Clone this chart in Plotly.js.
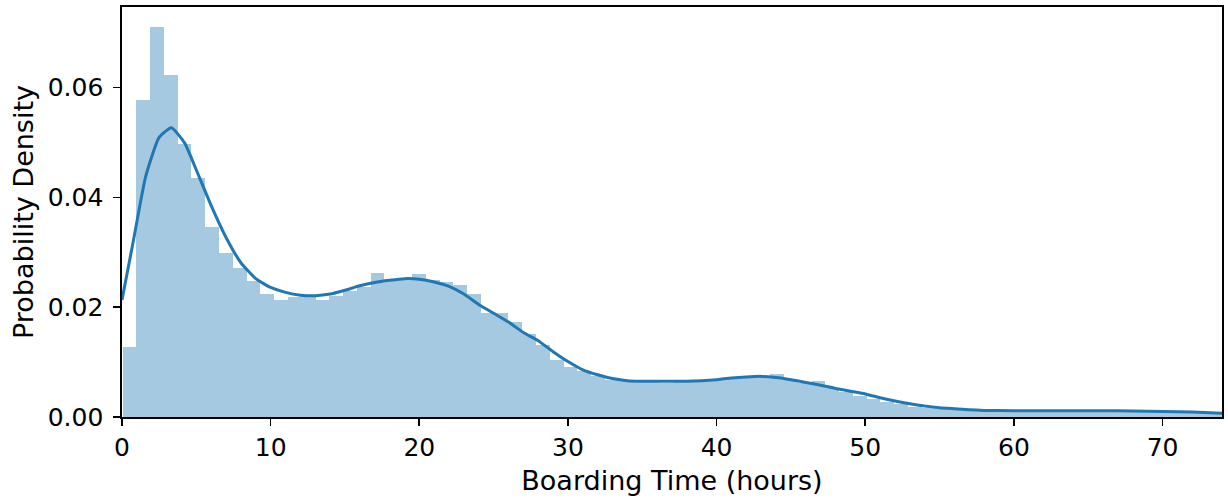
<!DOCTYPE html>
<html>
<head>
<meta charset="utf-8">
<script src="https://cdn.plot.ly/plotly-3.0.1.min.js"></script>
<style>
  html, body { margin: 0; padding: 0; background: #ffffff; }
  #chart { width: 1228px; height: 502px; }
</style>
</head>
<body>
<div id="chart"></div>
<script>
// Histogram of boarding times (density per bin), bins of equal width
const binStart = 0.039;
const binWidth = 0.927;
const binDensity = [
  0.0127, 0.0577, 0.0711, 0.0624, 0.0498, 0.0435, 0.0347, 0.0298, 0.0272, 0.0247,
  0.0224, 0.0214, 0.0219, 0.0221, 0.0213, 0.0220, 0.0229, 0.0237, 0.0263, 0.0247,
  0.0252, 0.0260, 0.0250, 0.0246, 0.0240, 0.0224, 0.0189, 0.0190, 0.0173, 0.0151,
  0.0132, 0.0104, 0.0092, 0.0083, 0.0075, 0.0068, 0.0068, 0.0066, 0.0065, 0.0062,
  0.0065, 0.0067, 0.0068, 0.0069, 0.0071, 0.0072, 0.0072, 0.0078, 0.0068, 0.0062,
  0.0065, 0.0052, 0.0046, 0.0039, 0.0033, 0.0027, 0.0023, 0.0019, 0.0016, 0.0014,
  0.0012, 0.0012, 0.0011, 0.0011, 0.0011, 0.0012, 0.0012, 0.0011, 0.0011, 0.0012,
  0.0011, 0.0011, 0.0010, 0.0010, 0.0009, 0.0009, 0.0008, 0.0008, 0.0007, 0.0007
];

// Kernel density estimate of the same sample
const kdeX = [
  0, 0.8, 1.59, 2.49, 3.32, 4.22, 5.0, 6.0, 7.0, 8.0, 9.0, 10.0, 11.0, 12.0, 13.0,
  14.0, 15.0, 16.0, 17.0, 18.0, 19.0, 20.0, 21.0, 22.0, 23.0, 24.0, 25.0, 26.0,
  27.0, 28.0, 29.0, 30.0, 31.0, 32.0, 33.0, 34.0, 35.0, 36.0, 37.0, 38.0, 39.0,
  40.0, 41.0, 42.0, 43.0, 44.0, 45.0, 46.0, 47.0, 48.0, 49.0, 50.0, 51.0, 52.0,
  53.0, 54.0, 55.0, 56.0, 57.0, 58.0, 60.0, 62.0, 64.0, 66.0, 68.0, 70.0, 72.0, 74.0
];
const kdeY = [
  0.0213, 0.0326, 0.0438, 0.0509, 0.0527, 0.0499, 0.0450, 0.0385, 0.0327, 0.0281,
  0.0252, 0.0236, 0.0227, 0.0222, 0.0221, 0.0224, 0.0231, 0.0239, 0.0245, 0.0249,
  0.0252, 0.0251, 0.0246, 0.0238, 0.0224, 0.0205, 0.0189, 0.0173, 0.0154, 0.0139,
  0.0119, 0.0101, 0.0086, 0.0077, 0.0070, 0.0066, 0.0065, 0.0065, 0.0065, 0.0065,
  0.0066, 0.0068, 0.0071, 0.0073, 0.0074, 0.0072, 0.0068, 0.0063, 0.0058, 0.0052,
  0.0047, 0.0042, 0.0035, 0.0029, 0.0024, 0.0020, 0.0017, 0.0015, 0.0013, 0.0012,
  0.00115, 0.00112, 0.00115, 0.00115, 0.0011, 0.0010, 0.0009, 0.0007
];

const xTitle = 'Boarding Time (hours)';
const yTitle = 'Probability Density';

const blue = '#1f77b4';
const tickFont = { family: 'DejaVu Sans, sans-serif', size: 25, color: '#000000' };
const titleFont = { family: 'DejaVu Sans, sans-serif', size: 27, color: '#000000' };

const binCenters = binDensity.map((_, k) => binStart + (k + 0.5) * binWidth);

const bars = {
  type: 'bar',
  x: binCenters,
  y: binDensity,
  width: binDensity.map(() => binWidth),
  marker: { color: 'rgba(31,119,180,0.4)', line: { width: 0 } },
  hoverinfo: 'x+y',
  showlegend: false
};

const kde = {
  type: 'scatter',
  mode: 'lines',
  x: kdeX,
  y: kdeY,
  line: { color: blue, width: 3, shape: 'spline', smoothing: 0.5 },
  showlegend: false
};

const axisCommon = {
  showline: true,
  mirror: true,
  linecolor: '#000000',
  linewidth: 1.6,
  ticks: 'outside',
  ticklen: 7,
  tickwidth: 1.6,
  tickcolor: '#000000',
  showgrid: false,
  zeroline: false,
  tickfont: tickFont,
  automargin: false
};

const layout = {
  width: 1228,
  height: 502,
  margin: { l: 122, r: 6, t: 7, b: 85 },
  paper_bgcolor: '#ffffff',
  plot_bgcolor: '#ffffff',
  bargap: 0,
  font: tickFont,
  xaxis: Object.assign({}, axisCommon, {
    range: [0, 74],
    dtick: 10,
    tick0: 0,
    title: { text: xTitle, font: titleFont, standoff: 10 }
  }),
  yaxis: Object.assign({}, axisCommon, {
    range: [0, 0.0747],
    dtick: 0.02,
    tick0: 0,
    tickformat: '.2f',
    ticklabelstandoff: 5,
    title: { text: yTitle, font: titleFont, standoff: 6 }
  })
};

Plotly.newPlot('chart', [bars, kde], layout, { displayModeBar: false, staticPlot: true });
</script>
</body>
</html>
